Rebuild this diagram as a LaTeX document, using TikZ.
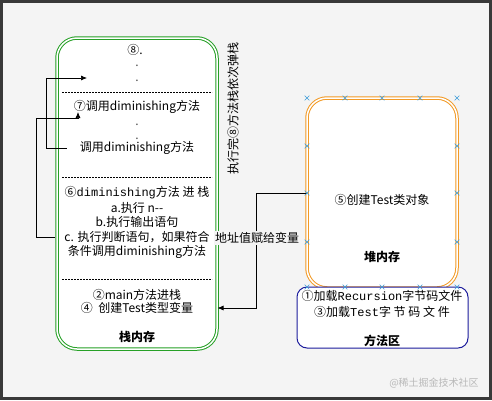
\documentclass[tikz,border=0pt]{standalone}
\usepackage{fontspec}
\setmainfont{Noto Sans CJK SC}
\newfontfamily\simmono{Liberation Mono}
\usetikzlibrary{arrows.meta,shapes.misc,positioning}
\definecolor{bggray}{HTML}{F4F4F4}
\definecolor{stackgreen}{HTML}{26A026}
\definecolor{heaporange}{HTML}{F29A26}
\definecolor{methodnavy}{HTML}{1C1C9C}
\definecolor{handleblue}{HTML}{3A9AD9}
\begin{document}
\begin{tikzpicture}[
            x=1pt, y=-1pt,
            every node/.style={font=\fontsize{12}{14}\selectfont, inner sep=1pt},
            memory/.style={draw, fill=white, rounded corners=20pt, line width=1pt, double=white, double distance=1.5pt},
            stackbox/.style={memory, draw=stackgreen},
            heapbox/.style={memory, draw=heaporange},
            methodbox/.style={draw=methodnavy, fill=white, line width=1pt, rounded corners=10pt},
            memlabel/.style={font=\fontsize{12}{14}\selectfont\bfseries},
            dotmark/.style={anchor=base, text=gray!60!black},
            sepline/.style={dash pattern=on 2pt off 1pt, line width=0.6pt},
            arr/.style={-{Latex[length=6pt,width=5pt]}, line width=0.7pt},
            handle/.style={cross out, draw=handleblue, minimum size=4pt, inner sep=0pt, line width=0.6pt}
          ]
          \useasboundingbox (0,0) rectangle (492,400);
          \fill[bggray] (0,0) rectangle (492,400);
          \draw[line width=3pt, gray!45!black] (1.5,1.5) rectangle (490.5,398.5);

          % Memory areas
          \node[stackbox, minimum width=160pt, minimum height=311pt] (stack) at (137,193.5) {};
          \node[heapbox, minimum width=150pt, minimum height=190pt] (heap) at (382,193) {};
          \node[methodbox, minimum width=171pt, minimum height=61pt] (method) at (382.5,317.5) {};

          % Stack contents
          \node (s8) at (135,50) {⑧.};
          \foreach \i/\dy in {1/66,2/81,3/125,4/139} {
            \node[dotmark] (dot\i) at (137,\dy) {.};
          }
          \draw[sepline] (62,92) -- (212,92);
          \node (c7) at (137,107) {⑦调用diminishing方法};
          \node (call1) at (137,148) {调用diminishing方法};
          \draw[sepline] (62,177) -- (212,177);
          \node (l6) at (137,193) {⑥{\simmono diminishing}方法 进 栈};
          \node (la) at (137,208) {a.执行 n-\kern0pt-};
          \node (lb) at (137,222) {b.执行输出语句};
          \node (lc) at (137,237) {c. 执行判断语句，如果符合};
          \node (ld) at (137,252) {条件调用diminishing方法};
          \draw[sepline] (62,279) -- (212,279);
          \node (s2) at (137,295) {②main方法进栈};
          \node (s4) at (137,308) {④\ \ 创建Test类型变量};
          \node[memlabel] (stacklbl) at (137,337) {栈内存};

          % Heap and method area contents
          \node (h5) at (382,200) {⑤创建Test类对象};
          \node[memlabel] (heaplbl) at (382,257) {堆内存};
          \node (m1) at (382,296) {①加载{\simmono Recursion}字节码文件};
          \node (m3) at (382,312) {③加载{\simmono Test}字 节 码 文 件};
          \node[memlabel] (methodlbl) at (382,341) {方法区};

          \node[rotate=90] (pop) at (233,108) {执行完⑧方法栈依次弹栈};

          % Return arrows on the left
          \coordinate (top7) at (87,78);
          \coordinate (bend7) at (78,118);
          \coordinate (tip7) at (78,112);
          \draw[arr] ([xshift=10pt]stack.west |- call1) -- ++(-20,0) |- (top7);
          \draw[arr] ([xshift=-2pt]stack.west |- lc) -- ++(-18,0) |- (bend7) -- (tip7);

          % Address to variable
          \draw[arr] (heap.west) -- ++(-50,0) |- (stack.east |- s4);
          \node[fill=bggray] (addr) at (257,238) {地址值赋给变量};

          % Connection handles
          \foreach \hx in {307,345,382,420,457} {
            \node[handle] (ht\hx) at (\hx,98) {};
            \node[handle] (hb\hx) at (\hx,287) {};
          }
          \foreach \hy in {146,193,242} {
            \node[handle] (hl\hy) at (307,\hy) {};
            \node[handle] (hr\hy) at (457,\hy) {};
          }

          \node[font=\fontsize{10}{12}\selectfont, text=gray!55] (wm) at (434,383) {@稀土掘金技术社区};
        \end{tikzpicture}
\end{document}
